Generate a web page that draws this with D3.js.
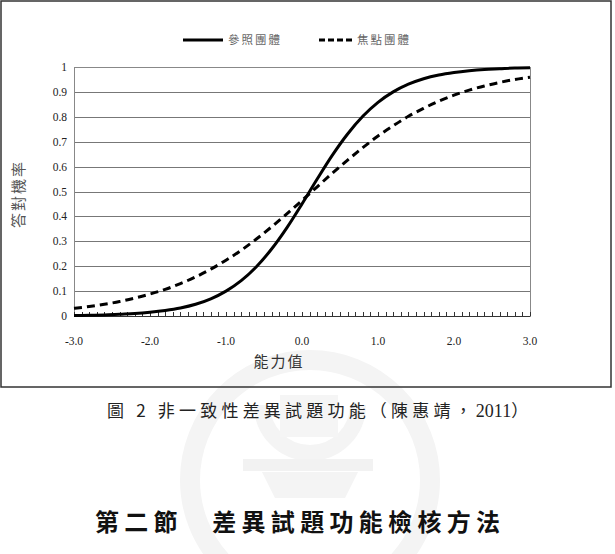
<!DOCTYPE html>
<html>
<head>
<meta charset="utf-8">
<script src="https://cdn.jsdelivr.net/npm/d3@7"></script>
<style>
  body { margin: 0; background: #fff; }
  svg { display: block; }
</style>
</head>
<body>
<svg id="chart" width="615" height="554"></svg>
<script>
// ability values (theta), step 0.2
const theta = [-3.0,-2.8,-2.6,-2.4,-2.2,-2.0,-1.8,-1.6,-1.4,-1.2,-1.0,-0.8,-0.6,-0.4,-0.2,
  0.0,0.2,0.4,0.6,0.8,1.0,1.2,1.4,1.6,1.8,2.0,2.2,2.4,2.6,2.8,3.0];

// 參照團體 (solid)
const refGroup = [0.002,0.003,0.004,0.007,0.010,0.015,0.022,0.032,0.047,0.069,0.100,0.142,0.198,0.269,0.354,
  0.450,0.550,0.646,0.731,0.802,0.858,0.900,0.931,0.953,0.968,0.978,0.985,0.990,0.993,0.996,0.997];

// 焦點團體 (dashed)
const focalGroup = [0.031,0.038,0.047,0.058,0.072,0.088,0.107,0.130,0.157,0.188,0.224,0.264,0.309,0.358,0.410,
  0.464,0.519,0.574,0.626,0.676,0.723,0.764,0.802,0.834,0.863,0.887,0.907,0.924,0.938,0.950,0.959];

const xTickLabels = ["-3.0","-2.0","-1.0","0.0","1.0","2.0","3.0"];
const yTickLabels = ["0","0.1","0.2","0.3","0.4","0.5","0.6","0.7","0.8","0.9","1"];
const seriesNames = ["參照團體", "焦點團體"];

const svg = d3.select("#chart");
const cjk = "'Noto Sans CJK TC', 'Noto Sans CJK SC', sans-serif";
const serif = "'Liberation Serif', 'DejaVu Serif', serif";

// faint watermark seal behind the caption
const wm = svg.append("g").attr("fill", "none").attr("stroke", "#f4f4f4");
wm.append("circle").attr("cx", 310).attr("cy", 480).attr("r", 120).attr("stroke-width", 20);
wm.append("path")
  .attr("d", "M262,405 A48,48 0 0 0 358,405")
  .attr("stroke-width", 16);
wm.append("rect").attr("x", 243).attr("y", 459).attr("width", 130).attr("height", 12)
  .attr("fill", "#f2f2f2").attr("stroke", "none");
wm.append("path").attr("d", "M262,472 L358,472 L345,498 L275,498 Z")
  .attr("fill", "#f4f4f4").attr("stroke", "none");
wm.append("rect").attr("x", 280).attr("y", 395).attr("width", 58).attr("height", 42)
  .attr("fill", "#f5f5f5").attr("stroke", "none");

// outer frame
svg.append("rect")
  .attr("x", 1).attr("y", 1).attr("width", 610).attr("height", 386)
  .attr("fill", "none").attr("stroke", "#333").attr("stroke-width", 1.5);

const plot = { left: 74, top: 67, right: 530, bottom: 316 };

const x = d3.scaleLinear().domain([-3, 3]).range([plot.left, plot.right]);
const y = d3.scaleLinear().domain([0, 1]).range([plot.bottom, plot.top]);

// horizontal gridlines
svg.append("g")
  .selectAll("line")
  .data(yTickLabels.map(Number))
  .join("line")
  .attr("x1", plot.left).attr("x2", plot.right)
  .attr("y1", d => Math.round(y(d)) + 0.5).attr("y2", d => Math.round(y(d)) + 0.5)
  .attr("stroke", "#777").attr("stroke-width", 1);

// plot border
svg.append("rect")
  .attr("x", plot.left + 0.5).attr("y", plot.top + 0.5)
  .attr("width", plot.right - plot.left).attr("height", plot.bottom - plot.top)
  .attr("fill", "none").attr("stroke", "#888");

// x axis minor ticks (every 0.1, pointing inward)
const minor = d3.range(61).map(i => -3 + i * 0.1);
svg.append("g")
  .selectAll("line")
  .data(minor)
  .join("line")
  .attr("x1", d => Math.round(x(d)) + 0.5).attr("x2", d => Math.round(x(d)) + 0.5)
  .attr("y1", plot.bottom).attr("y2", plot.bottom - 4)
  .attr("stroke", "#333");
svg.append("line")
  .attr("x1", plot.left).attr("x2", plot.right)
  .attr("y1", plot.bottom + 0.5).attr("y2", plot.bottom + 0.5)
  .attr("stroke", "#333");

// x tick labels
svg.append("g")
  .selectAll("text")
  .data(xTickLabels)
  .join("text")
  .attr("x", d => x(+d))
  .attr("y", 345)
  .attr("text-anchor", "middle")
  .style("font-family", serif).style("font-size", "11.5px").style("fill", "#222")
  .text(d => d);

// y tick labels
svg.append("g")
  .selectAll("text")
  .data(yTickLabels)
  .join("text")
  .attr("x", 67)
  .attr("y", d => y(+d) + 4)
  .attr("text-anchor", "end")
  .style("font-family", serif).style("font-size", "11.5px").style("fill", "#222")
  .text(d => d);

// axis titles
svg.append("text")
  .attr("x", 279).attr("y", 367)
  .attr("text-anchor", "middle")
  .style("font-family", cjk).style("font-size", "15px").style("letter-spacing", "2px").style("fill", "#333")
  .text("能力值");

svg.append("text")
  .attr("transform", "translate(24,194) rotate(-90)")
  .attr("text-anchor", "middle")
  .style("font-family", cjk).style("font-size", "15px").style("letter-spacing", "2px").style("fill", "#555")
  .text("答對機率");

// curves
const line = d3.line()
  .x((d, i) => x(theta[i]))
  .y(d => y(d))
  .curve(d3.curveMonotoneX);

svg.append("path")
  .datum(refGroup)
  .attr("d", line)
  .attr("fill", "none").attr("stroke", "#000").attr("stroke-width", 3);

svg.append("path")
  .datum(focalGroup)
  .attr("d", line)
  .attr("fill", "none").attr("stroke", "#000").attr("stroke-width", 3)
  .attr("stroke-dasharray", "8,5");

// legend
const legend = svg.append("g");
legend.append("line")
  .attr("x1", 183).attr("x2", 223).attr("y1", 40).attr("y2", 40)
  .attr("stroke", "#000").attr("stroke-width", 3);
legend.append("text")
  .attr("x", 228).attr("y", 44)
  .style("font-family", cjk).style("font-size", "11.5px").style("letter-spacing", "2px").style("fill", "#666")
  .text(seriesNames[0]);
legend.append("line")
  .attr("x1", 319).attr("x2", 353).attr("y1", 40).attr("y2", 40)
  .attr("stroke", "#000").attr("stroke-width", 3)
  .attr("stroke-dasharray", "6,3");
legend.append("text")
  .attr("x", 357).attr("y", 44)
  .style("font-family", cjk).style("font-size", "11.5px").style("letter-spacing", "2px").style("fill", "#666")
  .text(seriesNames[1]);

// figure caption and section heading
const caption = svg.append("text")
  .attr("x", 107).attr("y", 417)
  .style("font-family", cjk).style("font-size", "17px").style("letter-spacing", "4.2px").style("fill", "#222");
caption.append("tspan").text("圖 2 非一致性差異試題功能（陳惠靖，");
caption.append("tspan").style("font-family", serif).style("letter-spacing", "0px").style("font-size", "18px").text("2011");
caption.append("tspan").text("）");

svg.append("text")
  .attr("x", 95).attr("y", 531)
  .attr("textLength", 405).attr("lengthAdjust", "spacing")
  .style("font-family", cjk).style("font-size", "24px").style("font-weight", "bold").style("fill", "#111")
  .text("第二節　差異試題功能檢核方法");
</script>
</body>
</html>
